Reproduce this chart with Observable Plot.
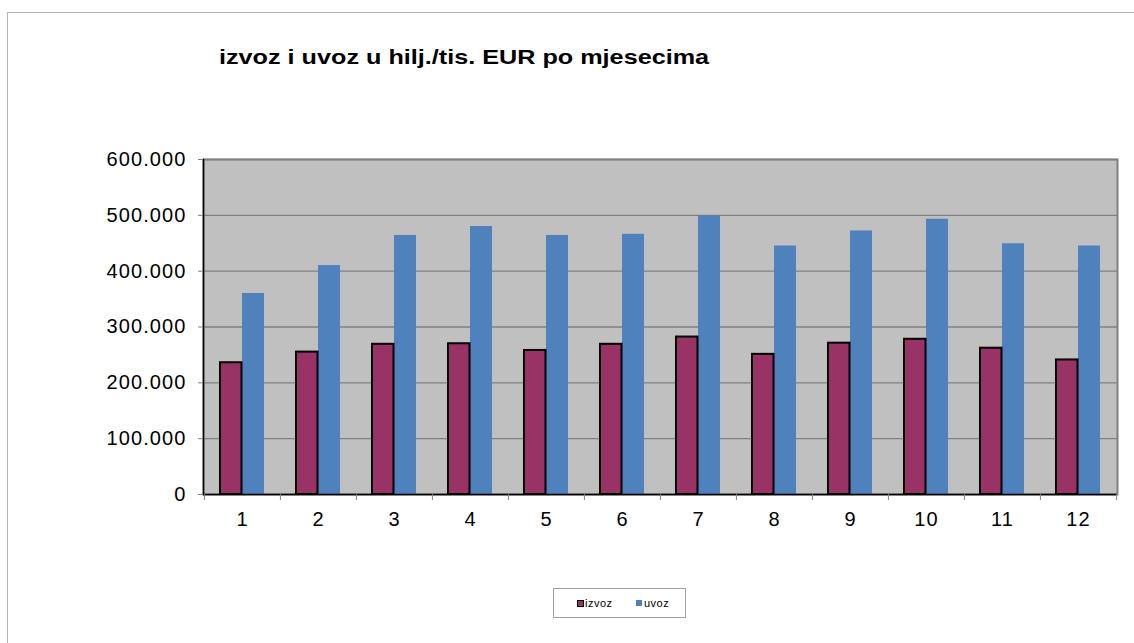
<!DOCTYPE html>
<html>
<head>
<meta charset="utf-8">
<script src="https://cdn.jsdelivr.net/npm/d3@7"></script>
<script src="https://cdn.jsdelivr.net/npm/@observablehq/plot@0.6"></script>
<style>
  html, body { margin: 0; padding: 0; background: #fff; width: 1134px; height: 643px; overflow: hidden; font-family: "Liberation Sans", Arial, sans-serif; }
  #outer { position: absolute; left: 7px; top: 12px; width: 1200px; height: 700px; border: 1px solid #b4b4b4; box-sizing: border-box; }
  #title { position: absolute; left: 219px; top: 45px; font-size: 21px; font-weight: bold; color: #000; white-space: nowrap; transform: scaleX(1.2); transform-origin: left center; }
  #chart { position: absolute; left: 0; top: 140px; }
  #chart svg text { letter-spacing: 1.1px; }
  #legend { position: absolute; left: 553px; top: 588px; width: 133px; height: 30px; border: 1px solid #a0a0a0; box-sizing: border-box; font-size: 11px; color: #000; }
  .item { position: absolute; top: 8px; display: flex; align-items: center; }
  .sw { width: 6px; height: 6px; margin-right: 1px; box-sizing: border-box; }
</style>
</head>
<body>
<div id="outer"></div>
<div id="title">izvoz i uvoz u hilj./tis. EUR po mjesecima</div>
<div id="chart"></div>
<div id="legend">
  <div class="item" style="left:23px"><div class="sw" style="background:#993366;border:1.5px solid #000;width:7px;height:7px"></div><span style="letter-spacing:0.5px">izvoz</span></div>
  <div class="item" style="left:82px"><div class="sw" style="background:#4F81BD;width:6px;height:6px;margin-right:2px"></div><span style="letter-spacing:0.5px">uvoz</span></div>
</div>
<script>
const months = [1, 2, 3, 4, 5, 6, 7, 8, 9, 10, 11, 12];
const series = ["izvoz", "uvoz"];
const izvoz = [236000, 255000, 269000, 270000, 258000, 269000, 282000, 251000, 271000, 278000, 262000, 241000];
const uvoz = [360000, 410000, 464000, 480000, 464000, 466000, 499000, 445000, 472000, 493000, 449000, 445000];
const yTicks = [0, 100000, 200000, 300000, 400000, 500000, 600000];

const izvozData = months.map((m, i) => ({month: m, series: "izvoz", value: izvoz[i]}));
const uvozData = months.map((m, i) => ({month: m, series: "uvoz", value: uvoz[i]}));

const hr = d3.formatLocale({decimal: ",", thousands: ".", grouping: [3], currency: ["", ""]});
const fmt = hr.format(",d");

const W = 1134, H = 400;
const mL = 203, mR = 17, mT = 19, mB = 46;
const half = (W - mL - mR) / months.length / 2;

const chart = Plot.plot({
  width: W,
  height: H,
  marginLeft: mL,
  marginRight: mR,
  marginTop: mT,
  marginBottom: mB,
  style: {fontFamily: "'Liberation Sans', Arial, sans-serif", background: "transparent", color: "#000"},
  x: {domain: months, padding: 0, axis: null},
  y: {domain: [0, 600000], axis: null},
  marks: [
    Plot.frame({fill: "#C0C0C0", stroke: "#808080", strokeWidth: 2}),
    Plot.ruleY(yTicks, {stroke: "#808080", strokeWidth: 1.3}),
    Plot.barY(uvozData, {x: "month", y: "value", fill: "#4F81BD", insetLeft: 38, insetRight: 16}),
    Plot.barY(izvozData, {x: "month", y: "value", fill: "#993366", stroke: "#000", strokeWidth: 2, insetLeft: 16, insetRight: 38.5}),
    Plot.ruleY([0], {stroke: "#000", strokeWidth: 1.5}),
    Plot.frame({anchor: "left", stroke: "#000", strokeWidth: 1.5}),
    Plot.axisY({ticks: yTicks, tickFormat: fmt, tickSize: 5, tickPadding: 12, stroke: "#808080", fontSize: 20, color: "#000", label: null}),
    Plot.axisX({ticks: months, tickFormat: d => String(d), tickSize: 0, tickPadding: 17, fontSize: 20, label: null}),
    Plot.axisX({ticks: months, tickFormat: () => "", tickSize: 6, dx: -half, stroke: "#808080", label: null}),
    Plot.axisX({ticks: [12], tickFormat: () => "", tickSize: 6, dx: half, stroke: "#808080", label: null})
  ]
});
document.getElementById("chart").appendChild(chart);
</script>
</body>
</html>
